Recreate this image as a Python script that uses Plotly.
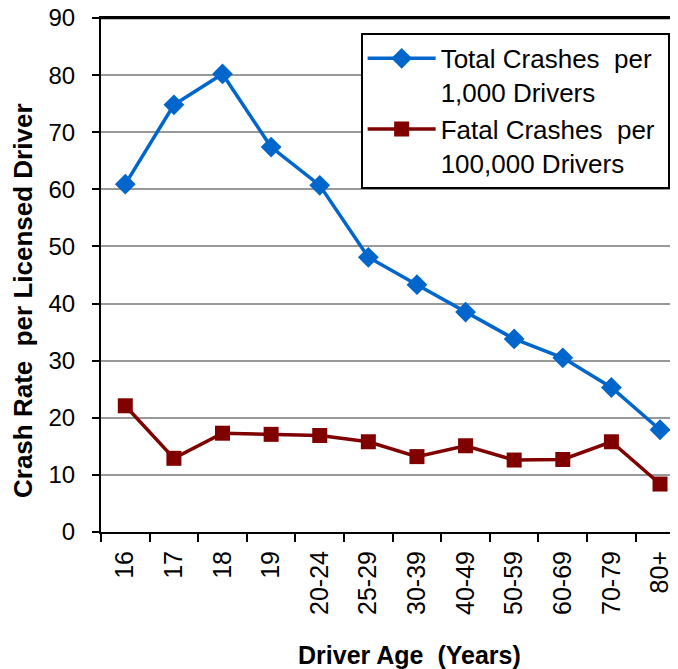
import plotly.graph_objects as go

ages = ["16", "17", "18", "19", "20-24", "25-29", "30-39", "40-49", "50-59", "60-69", "70-79", "80+"]
total_per_1000 = [60.9, 74.8, 80.2, 67.4, 60.7, 48.1, 43.3, 38.5, 33.8, 30.5, 25.3, 17.9]
fatal_per_100000 = [22.1, 12.9, 17.3, 17.1, 16.9, 15.8, 13.2, 15.1, 12.6, 12.7, 15.8, 8.4]

FONT = "Liberation Sans, Arial, sans-serif"

fig = go.Figure()
fig.add_trace(go.Scatter(
    x=ages, y=total_per_1000, mode="lines+markers",
    name="Total Crashes  per&nbsp;<br>1,000 Drivers",
    line=dict(color="#0066CC", width=3.5),
    marker=dict(symbol="diamond", size=16, color="#0066CC"),
))
fig.add_trace(go.Scatter(
    x=ages, y=fatal_per_100000, mode="lines+markers",
    name="Fatal Crashes  per&nbsp;<br>100,000 Drivers",
    line=dict(color="#800000", width=3.5),
    marker=dict(symbol="square", size=15, color="#800000"),
))

fig.update_layout(
    width=670, height=661,
    margin=dict(l=93, r=0, t=10, b=137, autoexpand=False),
    paper_bgcolor="white", plot_bgcolor="white",
    font=dict(family=FONT, size=24, color="black"),
    showlegend=True,
    legend=dict(
        x=0.45, y=0.971, xanchor="left", yanchor="top",
        bgcolor="white", bordercolor="black", borderwidth=2,
        font=dict(size=26, family=FONT), valign="top",
        itemwidth=68,
    ),
    xaxis=dict(
        type="category", range=[-0.5, 11.37], automargin=False,
        tickangle=-90, tickson="boundaries",
        ticks="outside", ticklen=8, tickwidth=2, tickcolor="black",
        showline=True, linecolor="black", linewidth=2, mirror=True,
        showgrid=False, zeroline=False,
        tickfont=dict(size=25), ticklabelstandoff=7,
    ),
    yaxis=dict(
        range=[0, 90], dtick=10, automargin=False,
        ticks="outside", ticklen=7, tickwidth=2, tickcolor="black",
        showline=True, linecolor="black", linewidth=2,
        showgrid=True, gridcolor="#999999", gridwidth=1.5,
        zeroline=False, tickfont=dict(size=24),
        ticklabeloverflow="allow", ticklabelstandoff=12,
    ),
    shapes=[
        dict(type="line", xref="paper", yref="y", x0=0, x1=1, y0=90, y1=90,
             line=dict(color="black", width=2.5), layer="above"),
    ],
    annotations=[
        dict(text="<b>Driver Age  (Years)</b>", xref="paper", yref="paper",
             x=(409 - 101) / 577, y=(532 - 655) / 514, xanchor="center", yanchor="middle",
             showarrow=False, font=dict(size=25, family=FONT)),
        dict(text="<b>Crash Rate  per Licensed Driver</b>", xref="paper", yref="paper",
             x=(23 - 101) / 577, y=(532 - 301) / 514, xanchor="center", yanchor="middle",
             textangle=-90, showarrow=False, font=dict(size=26, family=FONT)),
    ],
)

fig.write_html("out.html")
